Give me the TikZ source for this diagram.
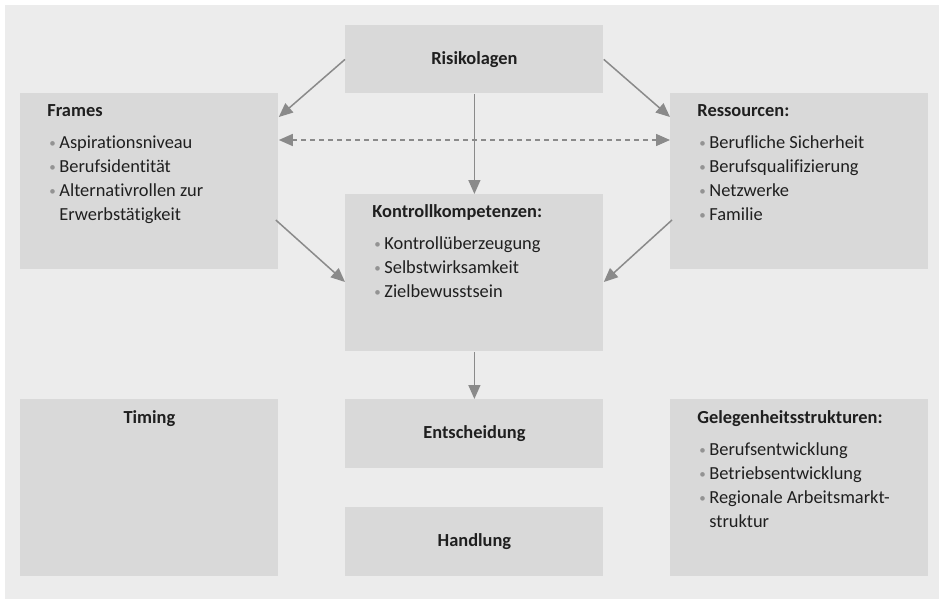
\documentclass[tikz,border=0pt]{standalone}
\usepackage{fontspec}
\setmainfont{Carlito}[Ligatures={NoCommon}]
\usepackage{xcolor}
\usepackage{tikz}
\usetikzlibrary{arrows.meta}
\definecolor{bggray}{HTML}{ECECEC}
\definecolor{boxgray}{HTML}{D9D9D9}
\definecolor{arrgray}{HTML}{8A8A8A}
\definecolor{dotgray}{HTML}{939393}
\newcommand{\bul}{\makebox[6pt][l]{\hspace{1pt}\raisebox{0.7pt}{\textcolor{dotgray}{\fontsize{6.5}{6}\selectfont\textbullet}}}}
\newcommand{\indt}{\makebox[6pt]{}}

\begin{document}
\begin{tikzpicture}[x=0.5pt, y=-0.5pt,
    every node/.style={font=\fontsize{9.2}{12}\selectfont, text=black!88},
    box/.style={fill=boxgray, inner sep=0pt, anchor=north west, minimum width=129pt},
    list/.style={anchor=north west, align=left, inner sep=0pt, xshift=13.5pt, yshift=-3.1pt},
    arr/.style={draw=arrgray, line width=0.75pt, -{Triangle[length=7pt, width=6pt]}},
    darr/.style={draw=arrgray, line width=0.75pt, dash pattern=on 2.5pt off 2pt,
                 {Triangle[length=7pt, width=6pt]}-{Triangle[length=7pt, width=6pt]}}
]
\useasboundingbox (0,0) rectangle (939,600);
\fill[bggray] (5,5) rectangle (939,599);

\node[box, minimum height=34pt]   (risk)    at (345,25)  {\textbf{Risikolagen}};
\node[box, minimum height=88pt]   (frames)  at (20,93)   {};
\node[box, minimum height=88pt]   (ress)    at (670,93)  {};
\node[box, minimum height=78.5pt] (kontr)   at (345,194) {};
\node[box, minimum height=88.5pt] (timing)  at (20,399)  {};
\node[box, minimum height=34.5pt] (entsch)  at (345,399) {\textbf{Entscheidung}};
\node[box, minimum height=34.5pt] (handl)   at (345,507) {\textbf{Handlung}};
\node[box, minimum height=88.5pt] (gelegen) at (670,399) {};

\node[list] (framest) at (frames.north west) {\strut\textbf{Frames}\\[4pt]
    \bul Aspirationsniveau\\ \bul Berufsidentität\\ \bul Alternativrollen zur\\ \indt Erwerbstätigkeit};
\node[list] (resst) at (ress.north west) {\strut\textbf{Ressourcen:}\\[4pt]
    \bul Berufliche Sicherheit\\ \bul Berufsqualifizierung\\ \bul Netzwerke\\ \bul Familie};
\node[list] (kontrt) at (kontr.north west) {\strut\textbf{Kontrollkompetenzen:}\\[4pt]
    \bul Kontrollüberzeugung\\ \bul Selbstwirksamkeit\\ \bul Zielbewusstsein};
\node[list, yshift=-0.5pt] (gelegent) at (gelegen.north west) {\strut\textbf{Gelegenheitsstrukturen:}\\[4pt]
    \bul Berufsentwicklung\\ \bul Betriebsentwicklung\\ \bul Regionale Arbeitsmarkt-\\ \indt struktur};
\node[anchor=base, inner sep=0pt] (timingt) at ([yshift=-12pt]timing.north) {\textbf{Timing}};

\draw[arr] (risk.west) -- ([yshift=-12pt]frames.north east);
\draw[arr] (risk.east) -- ([yshift=-12pt]ress.north west);
\draw[arr] (risk.south) -- (kontr.north);
\draw[darr] ([yshift=-23.5pt]frames.north east) -- ([yshift=-23.5pt]ress.north west);
\draw[arr] ([xshift=-1.5pt, yshift=-63.5pt]frames.north east) -- ([yshift=-44pt]kontr.north west);
\draw[arr] ([xshift=1pt, yshift=-63.5pt]ress.north west) -- ([yshift=-44pt]kontr.north east);
\draw[arr] (kontr.south) -- (entsch.north);
\end{tikzpicture}
\end{document}
